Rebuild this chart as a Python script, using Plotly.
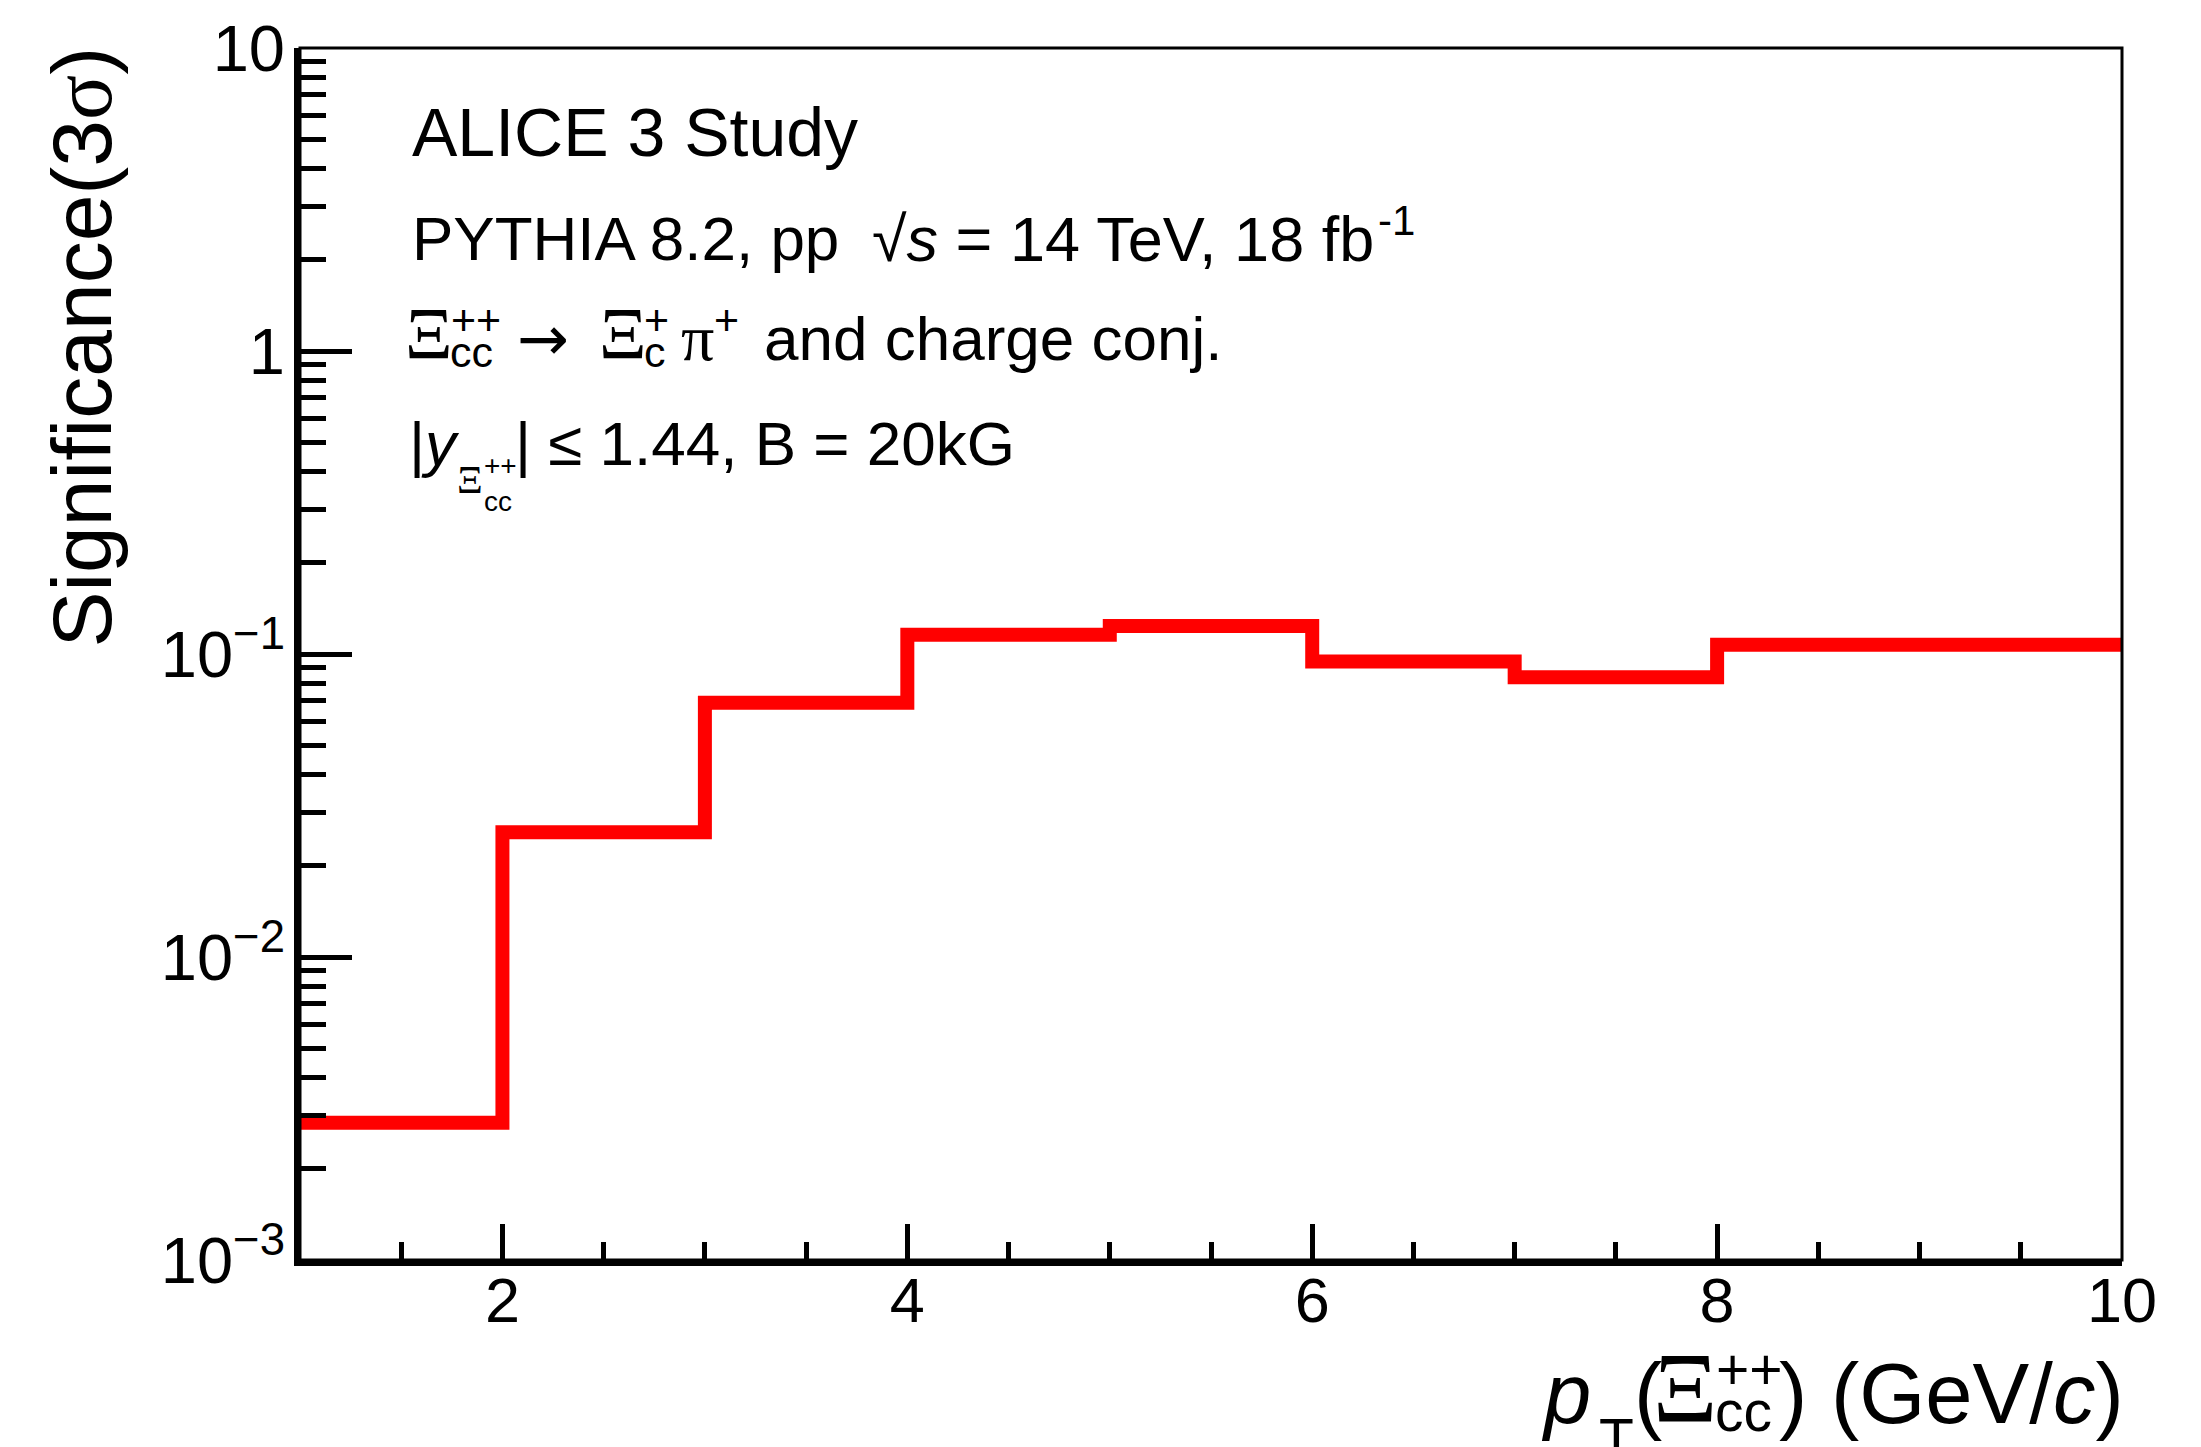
import plotly.graph_objects as go

# ---- data ----
bin_edges = [1, 2, 3, 4, 5, 6, 7, 8, 10]
significance = [0.00284, 0.0258, 0.0690, 0.1158, 0.1238, 0.0945, 0.0838, 0.1073]
y_tick_vals = [0.001, 0.01, 0.1, 1, 10]
y_tick_text = ["10<sup>\u22123</sup>", "10<sup>\u22122</sup>", "10<sup>\u22121</sup>", "1", "10"]
x_tick_vals = [2, 4, 6, 8, 10]
x_tick_text = ["2", "4", "6", "8", "10"]

FONT = "Liberation Sans"
SERIF = "Liberation Serif"
W, H = 2201, 1447
# plot area in page pixels
L, R, T, B = 300, 2122.5, 44, 1260
PW, PH = R - L, B - T

minor_y = [m * 10 ** e for e in range(-3, 1) for m in range(2, 10)]

fig = go.Figure()
fig.add_trace(go.Scatter(
    x=bin_edges,
    y=significance + [significance[-1]],
    mode="lines",
    line=dict(color="#ff0000", width=14, shape="hv"),
    showlegend=False,
    hoverinfo="skip",
))

fig.update_layout(
    width=W, height=H,
    margin=dict(l=L, r=W - R, t=T, b=H - B),
    paper_bgcolor="white", plot_bgcolor="white",
    font=dict(family=FONT, color="black", size=62),
    showlegend=False,
)
fig.update_xaxes(
    range=[1, 10], showgrid=False, zeroline=False,
    showline=True, linewidth=6, linecolor="black", mirror=False,
    ticks="inside", ticklen=36, tickwidth=5, tickcolor="black",
    tickvals=x_tick_vals, ticktext=x_tick_text,
    tickfont=dict(family=FONT, size=63, color="black"),
    ticklabelstandoff=-20, ticklabeloverflow="allow",
    minor=dict(ticks="inside", ticklen=18, tickwidth=5, tickcolor="black",
               tickvals=[1.5, 2.5, 3, 3.5, 4.5, 5, 5.5, 6.5, 7, 7.5, 8.5, 9, 9.5]),
)
fig.update_yaxes(
    type="log", range=[-3, 1], showgrid=False, zeroline=False,
    showline=True, linewidth=6, linecolor="black", mirror=False,
    ticks="inside", ticklen=52, tickwidth=5, tickcolor="black",
    tickvals=y_tick_vals, ticktext=y_tick_text,
    tickfont=dict(family=FONT, size=65, color="black"),
    ticklabelstandoff=-4, ticklabeloverflow="allow",
    minor=dict(ticks="inside", ticklen=26, tickwidth=5, tickcolor="black",
               tickvals=minor_y),
)
# thin frame on top / right
fig.add_shape(type="rect", xref="paper", yref="paper", x0=0, x1=1, y0=0, y1=1,
              line=dict(color="black", width=3), fillcolor="rgba(0,0,0,0)", layer="above")


def px_x(x):
    return (x - L) / PW


def px_y(y):
    return (B - y) / PH


def txt(text, x, baseline, size, xanchor="left", family=FONT):
    center = baseline - 0.3465 * size
    fig.add_annotation(text=text, xref="paper", yref="paper",
                       x=px_x(x), y=px_y(center), xanchor=xanchor, yanchor="middle",
                       showarrow=False, borderpad=0,
                       font=dict(size=size, family=family, color="black"))


# line 1
txt("ALICE 3 Study", 411, 152, 68)
# line 2
txt("PYTHIA 8.2, pp", 411, 257, 62)
txt("\u221a<i>s</i> = 14 TeV, 18 fb", 871, 257, 63)
txt("-1", 1377, 232, 42)
# line 3
txt("\u039e", 404, 357, 74, family=SERIF)
txt("++", 450, 332, 43)
txt("cc", 449, 364, 43)
txt("\u2192", 516, 357, 62, family="DejaVu Sans")
txt("\u039e", 598, 357, 74, family=SERIF)
txt("+", 643, 332, 43)
txt("c", 643, 364, 43)
txt("\u03c0", 680, 357, 66, family=SERIF)
txt("+", 713, 332, 43)
txt("and charge conj.", 763, 357, 62)
# line 4
txt("|<i>y</i>", 408, 462, 62)
txt("\u039e", 456, 491, 40, family=SERIF)
txt("++", 483, 473, 28)
txt("cc", 483, 509, 28)
txt("| \u2264 1.44, B = 20kG", 514, 462, 62)

# x-axis title (right aligned at axis end)
txt("<i>p</i>", 1540, 1423, 85)
txt("T", 1598, 1459, 57)
txt("(", 1633, 1423, 85)
txt("\u039e", 1652, 1423, 100, family=SERIF)
txt("++", 1715, 1389, 57)
txt("cc", 1714, 1431, 57)
txt(") (GeV/<i>c</i>)", 2126, 1423, 85, xanchor="right")

# y-axis title (rotated, aligned at top of axis)
fig.add_annotation(text="Significance(3<span style='font-family:Liberation Serif'>\u03c3</span>)",
                   xref="paper", yref="paper", x=px_x(81), y=px_y(42),
                   xanchor="center", yanchor="top", textangle=-90, showarrow=False,
                   borderpad=0, font=dict(size=84, family=FONT, color="black"))

fig.write_html("out.html", config={"displayModeBar": False},
               post_script="document.body.style.margin='0px';")
